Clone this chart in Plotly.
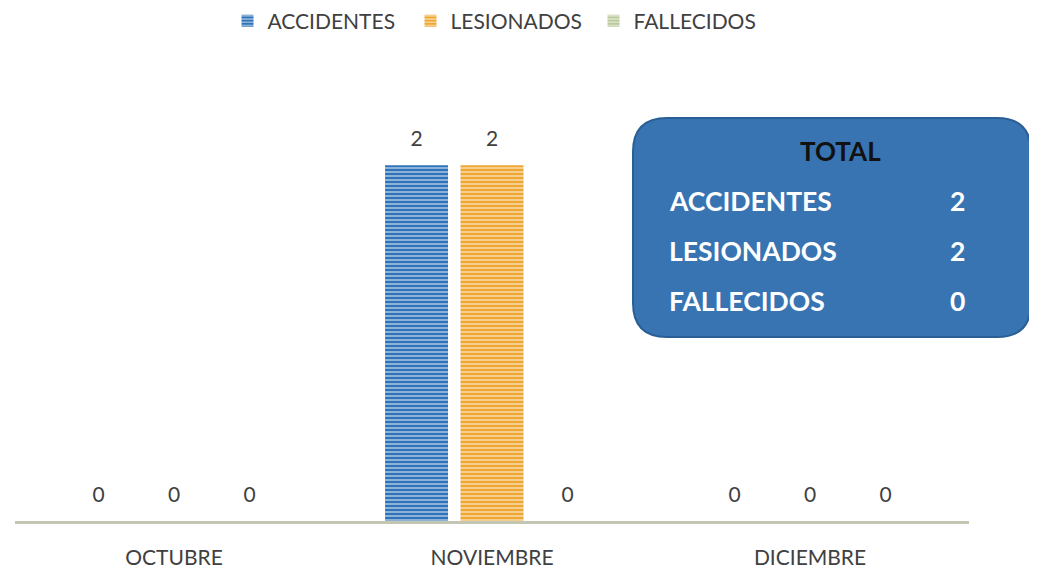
import plotly.graph_objects as go

meses = ["OCTUBRE", "NOVIEMBRE", "DICIEMBRE"]
accidentes = [0, 2, 0]
lesionados = [0, 2, 0]
fallecidos = [0, 0, 0]

series = [
    ("ACCIDENTES", accidentes, "#2f73b8"),
    ("LESIONADOS", lesionados, "#eea733"),
    ("FALLECIDOS", fallecidos, "#b9c99c"),
]

# page body has an 8px margin, so the figure is offset by 8px
OFF = 8
W, H = 1037 - OFF, 575 - OFF
ml, mr, mt, mb = 15 - OFF, 1037 - 969, 94 - OFF, 575 - 521
pw = W - ml - mr
ph = H - mt - mb

fig = go.Figure()
for i, (name, vals, col) in enumerate(series):
    fig.add_trace(go.Bar(
        x=meses, y=vals, name=name, offsetgroup=str(i),
        marker=dict(color=col, line=dict(width=0),
                    pattern=dict(shape="-", fillmode="overlay", fgcolor="white",
                                 fgopacity=0.75, size=4, solidity=0.3)),
    ))
for i, (name, vals, col) in enumerate(series):
    fig.add_trace(go.Scatter(
        x=meses, y=vals, offsetgroup=str(i), mode="markers+text",
        marker=dict(size=20, opacity=0), showlegend=False, hoverinfo="skip",
        text=[str(v) for v in vals], textposition="top center",
        textfont=dict(family="Lato", size=21, color="#404040"),
        cliponaxis=False,
    ))

# Totals box (screen pixel -> paper coords)
def px_x(p):
    return (p - OFF - ml) / pw

def px_y(p):
    return (H - mb - (p - OFF)) / ph

x0, x1, y0, y1, r = 633, 1031, 118, 337, 34
path = (f"M {px_x(x0 + r)},{px_y(y0)} L {px_x(x1 - r)},{px_y(y0)} "
        f"Q {px_x(x1)},{px_y(y0)} {px_x(x1)},{px_y(y0 + r)} "
        f"L {px_x(x1)},{px_y(y1 - r)} Q {px_x(x1)},{px_y(y1)} {px_x(x1 - r)},{px_y(y1)} "
        f"L {px_x(x0 + r)},{px_y(y1)} Q {px_x(x0)},{px_y(y1)} {px_x(x0)},{px_y(y1 - r)} "
        f"L {px_x(x0)},{px_y(y0 + r)} Q {px_x(x0)},{px_y(y0)} {px_x(x0 + r)},{px_y(y0)} Z")
fig.add_shape(type="path", path=path, xref="paper", yref="paper",
              fillcolor="#3874b2", line=dict(color="#2a5f95", width=2), layer="above")

fig.add_annotation(x=px_x(840), y=px_y(151), xref="paper", yref="paper",
                   xanchor="center", yanchor="middle",
                   text="<b>TOTAL</b>", showarrow=False,
                   font=dict(family="Lato", size=26, color="#111111"))
rows_y = [201, 251, 301]
for (name, vals, col), yy in zip(series, rows_y):
    fig.add_annotation(x=px_x(667), y=px_y(yy), xref="paper", yref="paper",
                       xanchor="left", yanchor="middle",
                       text=f"<b>{name}</b>", showarrow=False,
                       font=dict(family="Lato", size=26.5, color="white"))
    fig.add_annotation(x=px_x(957), y=px_y(yy), xref="paper", yref="paper",
                       xanchor="center", yanchor="middle",
                       text=f"<b>{sum(vals)}</b>", showarrow=False,
                       font=dict(family="Lato", size=26.5, color="white"))

fig.update_layout(
    width=W, height=H,
    margin=dict(l=ml, r=mr, t=mt, b=mb, autoexpand=False),
    paper_bgcolor="white", plot_bgcolor="white",
    barmode="group", bargap=0.288, bargroupgap=0.166,
    scattermode="group", scattergap=0.288,
    showlegend=True,
    legend=dict(orientation="h", xref="container", yref="container",
                x=(502 - OFF) / W, xanchor="center",
                y=1 - (21 - OFF) / H, yanchor="middle",
                entrywidth=138, entrywidthmode="pixels",
                font=dict(family="Lato", size=21, color="#404040"),
                traceorder="normal"),
    xaxis=dict(showline=True, linecolor="#c4c6b4", linewidth=3,
               tickfont=dict(family="Lato", size=21, color="#404040"),
               ticks="", ticklabelstandoff=16, showgrid=False),
    yaxis=dict(range=[0, 2.4], visible=False, showgrid=False),
)

fig.write_html("out.html")
